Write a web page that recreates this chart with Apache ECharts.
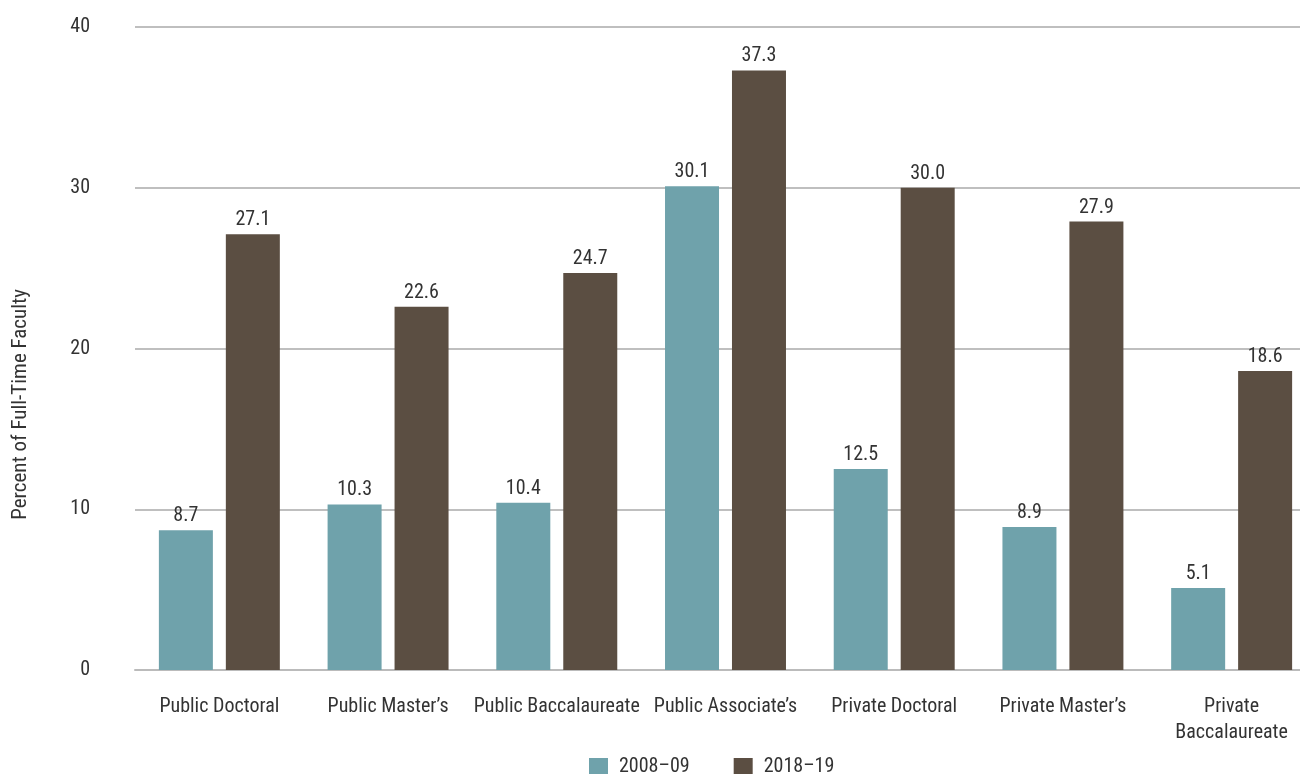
<!DOCTYPE html>
<html><head><meta charset="utf-8">
<script src="https://cdn.jsdelivr.net/npm/echarts@6/dist/echarts.min.js"></script>
<style>html,body{margin:0;padding:0;background:#fff}#c{width:1300px;height:774px}</style>
</head><body><div id="c"></div>
<script>
const categories = ["Public Doctoral","Public Master\u2019s","Public Baccalaureate","Public Associate\u2019s","Private Doctoral","Private Master\u2019s","Private\nBaccalaureate"];
const series2008 = [8.7,10.3,10.4,30.1,12.5,8.9,5.1];
const series2018 = [27.1,22.6,24.7,37.3,30.0,27.9,18.6];
const seriesNames = ["2008\u201309","2018\u201319"];
const yTicks = [0,10,20,30,40];

const FONT = '"Roboto Condensed","Liberation Sans Narrow",Roboto,sans-serif';
const TXT = '#333';
const chart = echarts.init(document.getElementById('c'));
const labelCfg = {show:true, position:'top', distance:4, color:TXT, fontFamily:FONT, fontSize:20, formatter:p=>p.value.toFixed(1)};
chart.setOption({
  animation:false,
  textStyle:{fontFamily:FONT},
  grid:{left:135, width:1181, top:27, height:643, containLabel:false, outerBoundsMode:'none'},
  legend:{top:752, left:584, itemWidth:19, itemHeight:18, itemGap:44, icon:'rect',
    textStyle:{color:TXT, fontFamily:FONT, fontSize:20, padding:[0,0,0,6]}, data:seriesNames},
  graphic:[{type:'text', left:10, top:289, rotation:Math.PI/2,
    style:{text:'Percent of Full-Time Faculty', fill:TXT, font:'21px '+FONT}
  }],
  xAxis:{type:'category', data:categories,
    axisLine:{show:true, lineStyle:{color:'#bbb', width:2}}, axisTick:{show:false},
    axisLabel:{color:TXT, fontFamily:FONT, fontSize:20, margin:24, lineHeight:26, interval:0}},
  yAxis:{type:'value', min:yTicks[0], max:yTicks[yTicks.length-1], interval:10,
    axisLine:{show:false}, axisTick:{show:false},
    axisLabel:{color:TXT, fontFamily:FONT, fontSize:20, margin:45},
    splitLine:{lineStyle:{color:'#aaa', width:1.5}}},
  series:[
    {name:seriesNames[0], type:'bar', data:series2008, barWidth:54, barGap:'24%', itemStyle:{color:'#6fa2ab'}, label:labelCfg},
    {name:seriesNames[1], type:'bar', data:series2018, barWidth:54, barGap:'24%', itemStyle:{color:'#5b4e42'}, label:labelCfg}
  ]
});
</script></body></html>
